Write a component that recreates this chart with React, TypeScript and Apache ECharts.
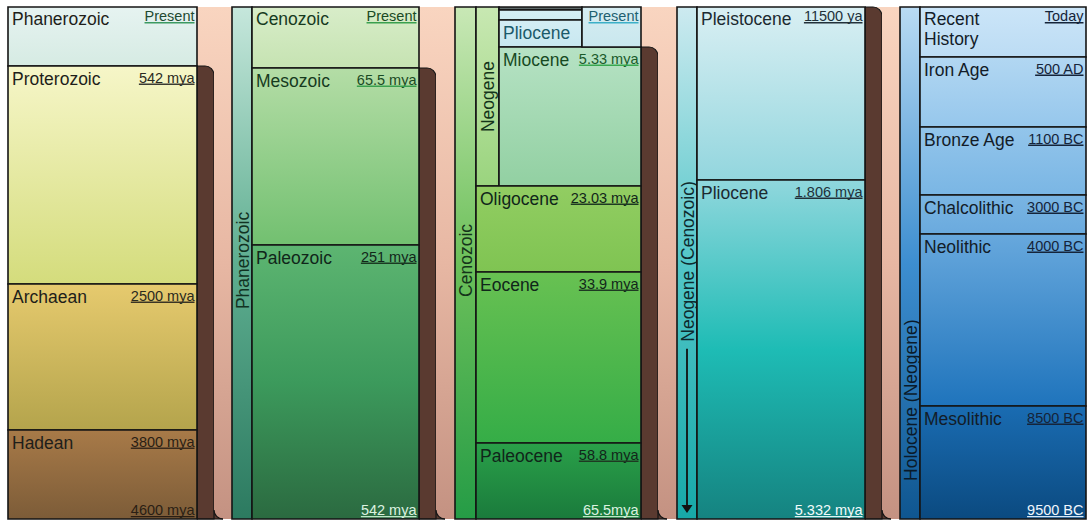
import React, { useEffect, useRef } from 'react';
import * as echarts from 'echarts';

// ---------------- DATA ----------------
// Diagram depth units: 0 = top of every column, DEPTH_MAX = bottom.
const DEPTH_MAX = 512;

// Panel 1: eons
const eonNames = ['Phanerozoic', 'Proterozoic', 'Archaean', 'Hadean'];
const eonDates = ['Present', '542 mya', '2500 mya', '3800 mya'];
const eonTops = [0, 59, 277, 423];
const eonBase = '4600 mya';

// Panel 2: eras of the Phanerozoic
const eraGroup = 'Phanerozoic';
const eraNames = ['Cenozoic', 'Mesozoic', 'Paleozoic'];
const eraDates = ['Present', '65.5 mya', '251 mya'];
const eraTops = [0, 61, 238];
const eraBase = '542 mya';

// Panel 3: epochs of the Cenozoic
const cenoGroup = 'Cenozoic';
const cenoSubGroup = 'Neogene';
const cenoNames = ['Holocene', 'Pleistocene', 'Pliocene', 'Miocene', 'Oligocene', 'Eocene', 'Paleocene'];
const cenoDates = ['', '', '', '5.33 mya', '23.03 mya', '33.9 mya', '58.8 mya'];
const cenoTops = [0, 3, 13, 40, 179, 265, 436];
const cenoTopDate = 'Present';
const cenoBase = '65.5mya';

// Panel 4: Neogene (Cenozoic)
const neoGroup = 'Neogene (Cenozoic)';
const neoNames = ['Pleistocene', 'Pliocene'];
const neoDates = ['11500 ya', '1.806 mya'];
const neoTops = [0, 173];
const neoBase = '5.332 mya';

// Panel 5: Holocene (Neogene)
const holoGroup = 'Holocene (Neogene)';
const holoNames = ['Recent\nHistory', 'Iron Age', 'Bronze Age', 'Chalcolithic', 'Neolithic', 'Mesolithic'];
const holoDates = ['Today', '500 AD', '1100 BC', '3000 BC', '4000 BC', '8500 BC'];
const holoTops = [0, 50, 120, 188, 227, 399];
const holoBase = '9500 BC';

// ---------------- LAYOUT & STYLE ----------------
const TOP = 7;
const HEIGHT = 512;
const COLS: number[][] = [
  [8, 197], // 0 p1 main
  [232, 252], // 1 p2 band
  [252, 419], // 2 p2 main
  [455, 476], // 3 p3 band
  [476, 641], // 4 p3 main
  [677, 697], // 5 p4 band
  [697, 865], // 6 p4 main
  [900, 920], // 7 p5 band
  [920, 1086], // 8 p5 main
];
const P3_SUB = 23 / 165; // Neogene sub column fraction
const P3_SPLIT = 106 / 165; // split for the "Present" box

const FONT = '"Liberation Sans", Arial, Helvetica, sans-serif';
const NAME_SIZE = 17.5;
const DATE_SIZE = 14.5;
const EDGE = '#141414';
const BROWN = '#5a3a30';
const SALMON = ['#f9d5c0', '#e7b7a3', '#c49282'];

const eonColors = [
  ['#e6f3f1', '#d6ebe3'],
  ['#f6f6c8', '#d4dc7c'],
  ['#e6ca6e', '#b4a44c'],
  ['#a87a48', '#7c5c38'],
];
const eraBandColors = ['#c6e7dc', '#5eae90', '#2c7a60'];
const eraColors = [
  ['#d8edc9', '#c6e3b2'],
  ['#b4dda6', '#72c070'],
  ['#5db571', '#3c9a5c', '#2b6a40'],
];
const cenoBandColors = ['#c9e8b6', '#6cc05a', '#259c46'];
const cenoSubColors = ['#c8e8b2', '#9ad47e'];
const cenoColors = [
  ['#5d6868', '#5d6868'],
  ['#d6eff5', '#d0ecf2'],
  ['#d3edf4', '#c8e8f0'],
  ['#b6e2c4', '#92d0a2'],
  ['#92cd62', '#7fc452'],
  ['#68c152', '#35ad47'],
  ['#2aa049', '#1a7a3c'],
];
const cenoPresentColors = ['#d6edf2', '#c9e7ee'];
const neoBandColors = ['#cdeaf0', '#52c6c8', '#17a8a8'];
const neoColors = [
  ['#d9eff3', '#93d6de'],
  ['#90d7dd', '#1ebcb5', '#158380'],
];
const holoBandColors = ['#b9dbf3', '#3d8ed0', '#0f5690'];
const holoColors = [
  ['#cbe5f8', '#bcdcf4'],
  ['#b2d7f2', '#96c7ec'],
  ['#93c5eb', '#7ab6e4'],
  ['#7ab5e3', '#6aaade'],
  ['#67a8dd', '#1f74bc'],
  ['#1a6cb2', '#0b4a80'],
];

// ---------------- HELPERS ----------------
let measureCtx: CanvasRenderingContext2D | null = null;
function textWidth(t: string, size: number): number {
  if (!measureCtx) measureCtx = document.createElement('canvas').getContext('2d');
  if (!measureCtx) return t.length * size * 0.55;
  measureCtx.font = `${size}px ${FONT}`;
  return measureCtx.measureText(t).width;
}

function grad(stops: string[]) {
  return new echarts.graphic.LinearGradient(
    0, 0, 0, 1,
    stops.map((c, i) => ({ offset: i / (stops.length - 1), color: c }))
  );
}

type BoxCfg = {
  names: string[];
  dates: string[];
  colors: string[][];
  nameFill: string[];
  dateFill: string[];
  lineFill: string[];
};

function boxRenderer(cfg: BoxCfg) {
  return (params: any, api: any) => {
    const i = params.dataIndex;
    const first = api.value(0) === 0;
    const a = api.coord([api.value(2), api.value(0)]);
    const b = api.coord([api.value(3), api.value(1)]);
    const x = a[0], y = a[1], w = b[0] - a[0], h = b[1] - a[1];
    const nameDy = first ? 1.5 : 2.5;
    const dateDy = first ? 1.5 : 4;
    const children: any[] = [
      {
        type: 'rect',
        shape: { x, y, width: w, height: h },
        style: { fill: grad(cfg.colors[i]), stroke: EDGE, lineWidth: 1.6 },
      },
    ];
    const name = cfg.names[i];
    if (name && h > 20) {
      children.push({
        type: 'text',
        x: x + 4,
        y: y + nameDy,
        style: {
          text: name, fill: cfg.nameFill[i], fontSize: NAME_SIZE, fontFamily: FONT,
          lineHeight: 20, align: 'left', verticalAlign: 'top',
        },
      });
    }
    const d = cfg.dates[i];
    if (d) {
      const tw = textWidth(d, DATE_SIZE);
      const rx = x + w - 2.5;
      children.push({
        type: 'text',
        x: rx,
        y: y + dateDy,
        style: { text: d, fill: cfg.dateFill[i], fontSize: DATE_SIZE, fontFamily: FONT, align: 'right', verticalAlign: 'top' },
      });
      children.push({
        type: 'line',
        shape: { x1: rx - tw, y1: y + dateDy + 14.3, x2: rx, y2: y + dateDy + 14.3 },
        style: { stroke: cfg.lineFill[i], lineWidth: 1.4 },
      });
    }
    return { type: 'group', children };
  };
}

function baseRenderer(text: string, fill: string, line: string) {
  return (params: any, api: any) => {
    const p = api.coord([1, api.value(0)]);
    const tw = textWidth(text, DATE_SIZE);
    const rx = p[0] - 2.5;
    const by = p[1] - 1.6;
    return {
      type: 'group',
      children: [
        {
          type: 'text', x: rx, y: by,
          style: { text, fill, fontSize: DATE_SIZE, fontFamily: FONT, align: 'right', verticalAlign: 'bottom' },
        },
        {
          type: 'line',
          shape: { x1: rx - tw, y1: by - 0.8, x2: rx, y2: by - 0.8 },
          style: { stroke: line, lineWidth: 1.4 },
        },
      ],
    };
  };
}

function bandRenderer(label: string, colors: string[], frac: number, fill: string, arrow: boolean) {
  return (params: any, api: any) => {
    const a = api.coord([api.value(2), api.value(0)]);
    const b = api.coord([api.value(3), api.value(1)]);
    const x = a[0], y = a[1], w = b[0] - a[0], h = b[1] - a[1];
    const cx = x + w / 2 + 0.5;
    const cy = y + h * frac;
    const children: any[] = [
      { type: 'rect', shape: { x, y, width: w, height: h }, style: { fill: grad(colors), stroke: EDGE, lineWidth: 1.6 } },
      {
        type: 'text', x: cx, y: cy, rotation: Math.PI / 2,
        style: { text: label, fill, fontSize: NAME_SIZE, fontFamily: FONT, align: 'center', verticalAlign: 'middle' },
      },
    ];
    if (arrow) {
      const tw = textWidth(label, NAME_SIZE);
      const y1 = cy + tw / 2 + 7;
      const y2 = y + h - 6;
      children.push({ type: 'line', shape: { x1: cx - 0.5, y1, x2: cx - 0.5, y2: y2 - 6 }, style: { stroke: '#111', lineWidth: 1.8 } });
      children.push({
        type: 'polygon',
        shape: { points: [[cx - 6, y2 - 8], [cx + 5, y2 - 8], [cx - 0.5, y2]] },
        style: { fill: '#111' },
      });
    }
    return { type: 'group', children };
  };
}

function connectorRenderer(gap: number) {
  return (params: any, api: any) => {
    const cs = params.coordSys;
    const x0 = cs.x + cs.width;
    const yt = cs.y;
    const ys = api.coord([1, api.value(0)])[1];
    const ye = api.coord([1, api.value(1)])[1];
    const bw = 17;
    const r = 9;
    return {
      type: 'group',
      children: [
        { type: 'rect', shape: { x: x0, y: yt, width: gap, height: ye - yt }, style: { fill: grad(SALMON) } },
        { type: 'rect', shape: { x: x0 + bw - 1, y: ye - r - 2, width: r + 3, height: r + 2 }, style: { fill: BROWN } },
        {
          type: 'rect', shape: { x: x0, y: ys, width: bw, height: ye - ys, r: [0, r, 0, 0] },
          style: { fill: BROWN, stroke: EDGE, lineWidth: 1.2 },
        },
        {
          type: 'rect', shape: { x: x0 + bw, y: yt, width: gap - bw, height: ye - yt, r: [0, 0, 0, r] },
          style: { fill: grad(SALMON) },
        },
        {
          type: 'arc', shape: { cx: x0 + bw + r, cy: ye - r, r, startAngle: Math.PI / 2, endAngle: Math.PI, clockwise: true },
          style: { stroke: EDGE, lineWidth: 1.2, fill: 'none' },
        },
        { type: 'line', shape: { x1: x0, y1: ye, x2: x0 + bw + r, y2: ye }, style: { stroke: EDGE, lineWidth: 1.2 } },
      ],
    };
  };
}

function spans(tops: number[]) {
  return tops.map((t, i) => [t, i + 1 < tops.length ? tops[i + 1] : DEPTH_MAX]);
}

function buildOption() {
  const grid = COLS.map((c) => ({ left: c[0], top: TOP, width: c[1] - c[0], height: HEIGHT, containLabel: false }));
  const xAxis = COLS.map((_, i) => ({ gridIndex: i, type: 'value', min: 0, max: 1, show: false }));
  const yAxis = COLS.map((_, i) => ({ gridIndex: i, type: 'value', min: 0, max: DEPTH_MAX, inverse: true, show: false }));

  const series: any[] = [];
  const custom = (g: number, data: any[], renderItem: any, z = 2) =>
    series.push({
      type: 'custom', xAxisIndex: g, yAxisIndex: g, data, renderItem, clip: false, silent: true, z,
      coordinateSystem: 'cartesian2d',
    });

  // connectors (background) between panels
  custom(0, [[eonTops[1], DEPTH_MAX]], connectorRenderer(COLS[1][0] - COLS[0][1]), 1);
  custom(2, [[eraTops[1], DEPTH_MAX]], connectorRenderer(COLS[3][0] - COLS[2][1]), 1);
  custom(4, [[cenoTops[3], DEPTH_MAX]], connectorRenderer(COLS[5][0] - COLS[4][1]), 1);
  custom(6, [[neoTops[0], DEPTH_MAX]], connectorRenderer(COLS[7][0] - COLS[6][1]), 1);

  // Panel 1
  custom(0, spans(eonTops).map((s) => [s[0], s[1], 0, 1]), boxRenderer({
    names: eonNames,
    dates: eonDates,
    colors: eonColors,
    nameFill: eonNames.map(() => '#1e1e1a'),
    dateFill: ['#1f4a32', '#2a2a22', '#2a2a1e', '#2a1e14'],
    lineFill: ['#3c9a62', '#3a3a32', '#3a3424', '#3a2a1c'],
  }));
  custom(0, [[DEPTH_MAX]], baseRenderer(eonBase, '#2a1e14', '#2a1e14'), 3);

  // Panel 2
  custom(1, [[0, DEPTH_MAX, 0, 1]], bandRenderer(eraGroup, eraBandColors, 0.495, '#123222', false));
  custom(2, spans(eraTops).map((s) => [s[0], s[1], 0, 1]), boxRenderer({
    names: eraNames,
    dates: eraDates,
    colors: eraColors,
    nameFill: ['#163a1e', '#163a1e', '#10261a'],
    dateFill: ['#1a4a24', '#1a4a24', '#12261a'],
    lineFill: ['#3aa04e', '#3aa04e', '#1a3a22'],
  }));
  custom(2, [[DEPTH_MAX]], baseRenderer(eraBase, '#dcf2e0', '#bfe6c8'), 3);

  // Panel 3
  custom(3, [[0, DEPTH_MAX, 0, 1]], bandRenderer(cenoGroup, cenoBandColors, 0.495, '#14341a', false));
  custom(4, [[0, cenoTops[4], 0, P3_SUB]], bandRenderer(cenoSubGroup, cenoSubColors, 0.5, '#14341a', false));
  const cs = spans(cenoTops);
  const p3Data: any[] = [];
  const p3Names: string[] = [];
  const p3Dates: string[] = [];
  const p3Colors: string[][] = [];
  const p3NameFill: string[] = [];
  const p3DateFill: string[] = [];
  const p3LineFill: string[] = [];
  cs.forEach((s, i) => {
    const x0 = i <= 3 ? P3_SUB : 0;
    const x1 = i <= 2 ? P3_SPLIT : 1;
    p3Data.push([s[0], s[1], x0, x1]);
    p3Names.push(cenoNames[i]);
    p3Dates.push(cenoDates[i]);
    p3Colors.push(cenoColors[i]);
    p3NameFill.push(i === 2 ? '#1b5a6a' : i === 3 ? '#174a22' : '#10261a');
    p3DateFill.push(i === 3 ? '#1a5a2a' : '#12261a');
    p3LineFill.push(i === 3 ? '#38a850' : '#1e3a22');
  });
  p3Data.push([cenoTops[0], cenoTops[3], P3_SPLIT, 1]);
  p3Names.push('');
  p3Dates.push(cenoTopDate);
  p3Colors.push(cenoPresentColors);
  p3NameFill.push('#1b5a6a');
  p3DateFill.push('#1e6070');
  p3LineFill.push('#3cb0c8');
  custom(4, p3Data, boxRenderer({
    names: p3Names, dates: p3Dates, colors: p3Colors,
    nameFill: p3NameFill, dateFill: p3DateFill, lineFill: p3LineFill,
  }));
  custom(4, [[DEPTH_MAX]], baseRenderer(cenoBase, '#dcf2e0', '#bfe6c8'), 3);

  // Panel 4
  custom(5, [[0, DEPTH_MAX, 0, 1]], bandRenderer(neoGroup, neoBandColors, 0.497, '#0e2a2e', true));
  custom(6, spans(neoTops).map((s) => [s[0], s[1], 0, 1]), boxRenderer({
    names: neoNames,
    dates: neoDates,
    colors: neoColors,
    nameFill: ['#1c2a30', '#1c2a30'],
    dateFill: ['#22313a', '#22313a'],
    lineFill: ['#22313a', '#22313a'],
  }));
  custom(6, [[DEPTH_MAX]], baseRenderer(neoBase, '#f2fbfb', '#dff4f4'), 3);

  // Panel 5
  custom(7, [[0, DEPTH_MAX, 0, 1]], bandRenderer(holoGroup, holoBandColors, 0.768, '#0a1a2a', false));
  custom(8, spans(holoTops).map((s) => [s[0], s[1], 0, 1]), boxRenderer({
    names: holoNames,
    dates: holoDates,
    colors: holoColors,
    nameFill: holoNames.map(() => '#131c28'),
    dateFill: holoNames.map(() => '#15243a'),
    lineFill: holoNames.map(() => '#15243a'),
  }));
  custom(8, [[DEPTH_MAX]], baseRenderer(holoBase, '#f0f6fc', '#d8e8f6'), 3);

  return {
    animation: false,
    backgroundColor: '#ffffff',
    tooltip: { show: false },
    grid,
    xAxis,
    yAxis,
    series,
  };
}

export default function App() {
  const ref = useRef<HTMLDivElement>(null);
  useEffect(() => {
    if (!ref.current) return;
    const chart = echarts.init(ref.current, null, { renderer: 'svg' });
    chart.setOption(buildOption() as any);
    return () => chart.dispose();
  }, []);
  return (
    <div
      ref={ref}
      style={{ position: 'absolute', left: 0, top: 0, width: 1091, height: 523, background: '#fff' }}
    />
  );
}
